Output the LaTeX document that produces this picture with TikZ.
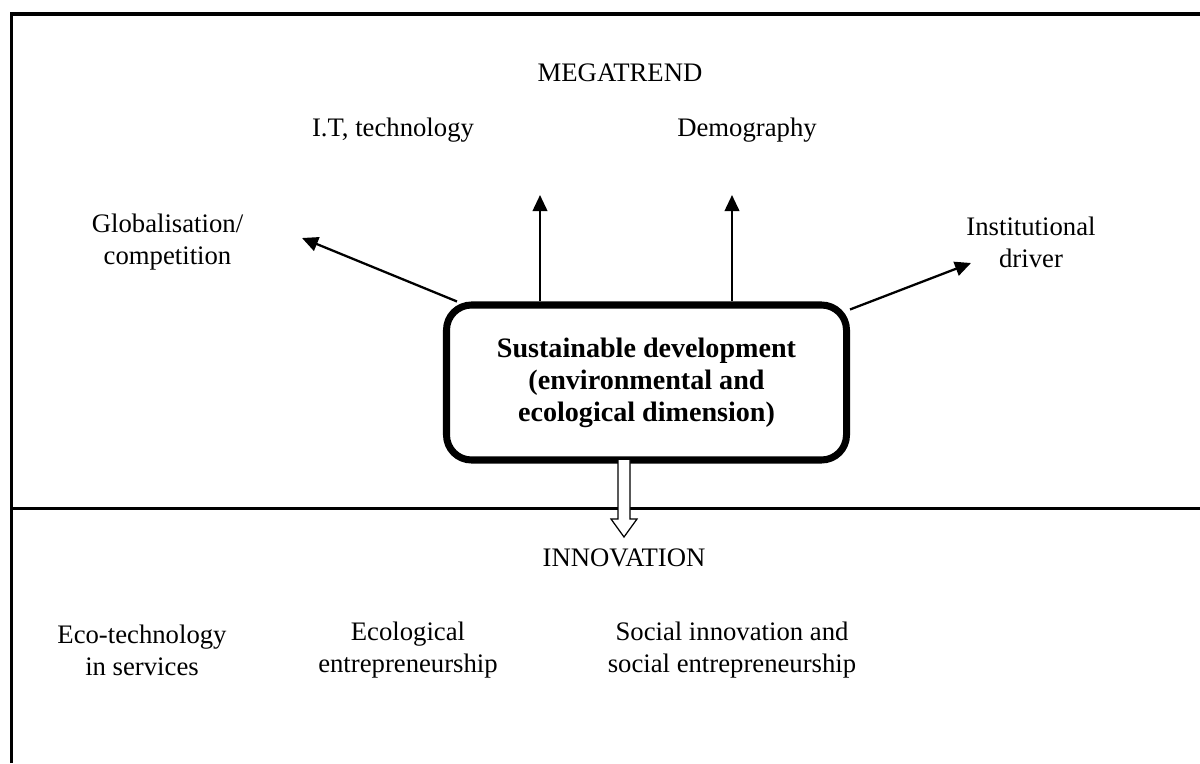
\documentclass[tikz,border=0pt]{standalone}
\usepackage{fontspec}
\setmainfont{Liberation Serif}
\usetikzlibrary{arrows.meta}

\begin{document}
\begin{tikzpicture}[
    lbl/.style={align=center, font=\fontsize{15.2}{18.2}\selectfont},
    arr/.style={line width=1.3pt, -{Triangle[length=0.32cm,width=0.29cm]}},
    corebox/.style={draw, line width=4pt, rounded corners=0.5cm, fill=white,
        minimum width=8.0cm, minimum height=3.1cm, align=center,
        font=\fontsize{16}{18.2}\selectfont\bfseries}
]
    \useasboundingbox (0,0) rectangle (24,15.26);

    % frame and divider
    \draw[line width=2.2pt] (0.23,0) -- (0.23,14.98) -- (24,14.98);
    \draw[line width=1.8pt] (0.23,5.09) -- (24,5.09);

    \node[lbl] (mega) at (12.4,13.8) {MEGATREND};
    \node[lbl] (it) at (7.86,12.66) {I.T, technology};
    \node[lbl] (demo) at (14.94,12.66) {Demography};
    \node[lbl] (glob) at (3.35,10.42) {Globalisation/\\competition};
    \node[lbl] (inst) at (20.62,10.42) {Institutional\\driver};

    \node[corebox] (box) at (12.93,7.61) {Sustainable development\\(environmental and\\ecological dimension)};

    \coordinate (globTip) at (6.04,10.5);
    \coordinate (itTip) at (10.8,11.36);
    \coordinate (demoTip) at (14.64,11.36);
    \coordinate (instTip) at (19.42,10.0);

    \draw[arr] ([xshift=0.28cm]box.north west) -- (globTip);
    \draw[arr] (box.north -| itTip) -- (itTip);
    \draw[arr] (box.north -| demoTip) -- (demoTip);
    \draw[arr] ([yshift=-0.16cm]box.north east) -- (instTip);

    % hollow arrow down to innovation
    \coordinate (down) at (12.48,6.06);
    \filldraw[fill=white, line width=0.7pt]
        ([xshift=-0.12cm]down) -- ++(0,-1.18) -- ++(-0.14,0) -- (12.48,4.52)
        -- (12.74,4.88) -- ++(-0.14,0) -- ([xshift=0.12cm]down);

    \node[lbl] (innov) at (12.48,4.1) {INNOVATION};
    \node[lbl] (eco) at (2.84,2.26) {Eco-technology\\in services};
    \node[lbl] (ecol) at (8.16,2.26) {Ecological\\entrepreneurship};
    \node[lbl] (social) at (14.64,2.26) {Social innovation and\\social entrepreneurship};
\end{tikzpicture}
\end{document}
